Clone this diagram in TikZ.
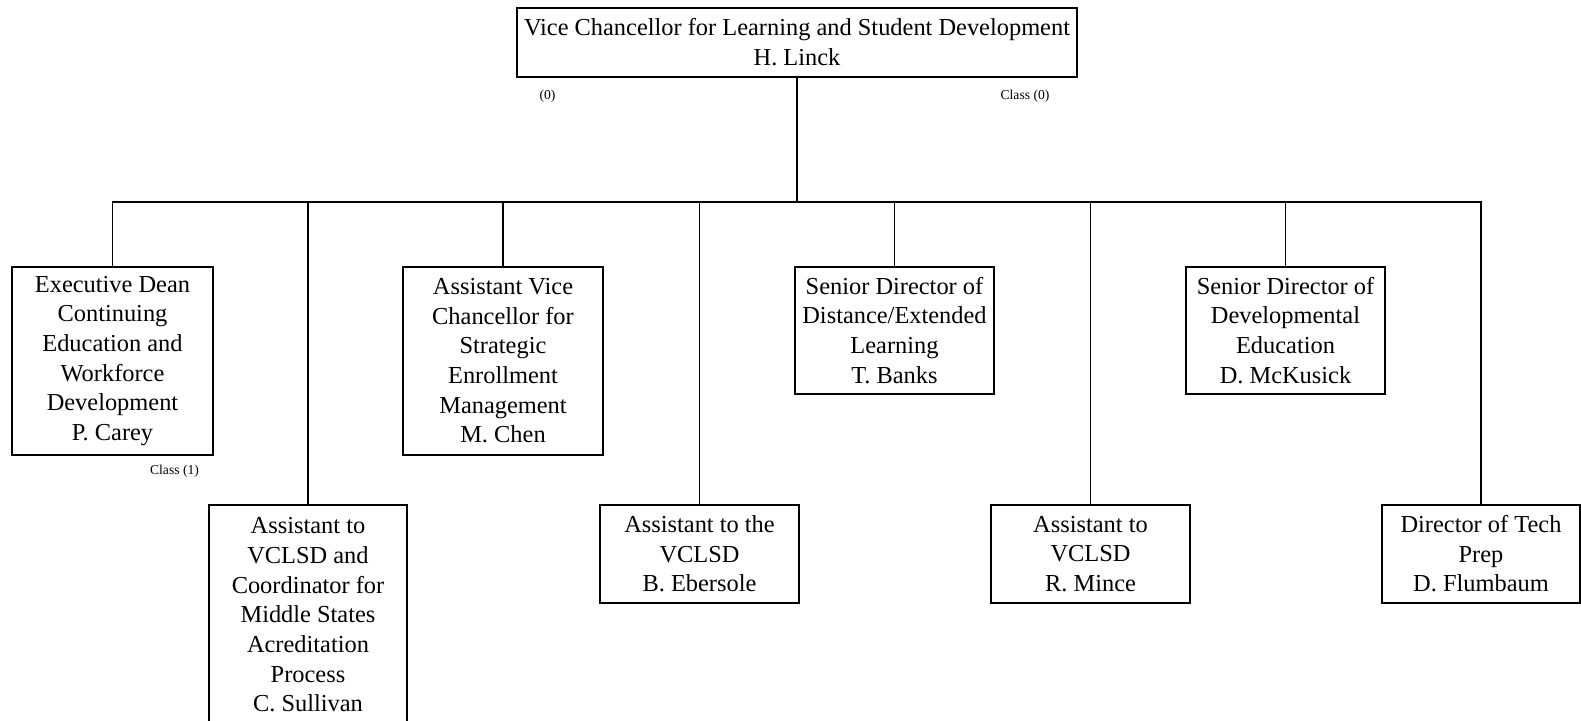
\documentclass[tikz,border=0pt]{standalone}
\usepackage{fontspec}
\setmainfont{Liberation Serif}
\usetikzlibrary{positioning}

\begin{document}
\begin{tikzpicture}[
    x=0.5pt, y=-0.5pt,
    post/.style={rectangle, draw, line width=0.8pt, align=center, anchor=north, inner sep=0pt, font=\fontsize{12.2}{14.85}\selectfont},
    note/.style={inner sep=0pt, font=\fontsize{6.8}{8}\selectfont},
    link/.style={line width=0.8pt},
]
\useasboundingbox (0,0) rectangle (1581,720);

\node[post, minimum width=280pt, minimum height=34.5pt] (vc) at (797,7) {Vice Chancellor for Learning and Student Development\\H. Linck};

% first row
\node[post, minimum width=100.5pt, minimum height=94pt] (exec) at (112.5,266) {Executive Dean\\Continuing\\Education and\\Workforce\\Development\\P. Carey};
\node[post, minimum width=100pt, minimum height=94pt] (avc) at (503,266) {Assistant Vice\\Chancellor for\\Strategic\\Enrollment\\Management\\M. Chen};
\node[post, minimum width=99.5pt, minimum height=63.5pt] (dist) at (894.5,266) {Senior Director of\\Distance/Extended\\Learning\\T. Banks};
\node[post, minimum width=99.5pt, minimum height=63.5pt] (dev) at (1285.5,266) {Senior Director of\\Developmental\\Education\\D. McKusick};

% second row
\node[post, minimum width=99pt, minimum height=110pt] (sull) at (308,504) {Assistant to\\VCLSD and\\Coordinator for\\Middle States\\Acreditation\\Process\\C. Sullivan};
\node[post, minimum width=99.5pt, minimum height=49pt] (eber) at (699.5,504) {Assistant to the\\VCLSD\\B. Ebersole};
\node[post, minimum width=99.5pt, minimum height=49pt] (mince) at (1090.5,504) {Assistant to\\VCLSD\\R. Mince};
\node[post, minimum width=99pt, minimum height=49pt] (tech) at (1481,504) {Director of Tech\\Prep\\D. Flumbaum};

% Annotations
\node[note] (n0) at (547.5,96) {(0)};
\node[note] (c0) at (1025,96) {Class (0)};
\node[note] (c1) at (174.5,471) {Class (1)};

% connectors
\coordinate (bus) at (797,202);
\draw[link] (vc.south) -- (bus);
\foreach \c in {exec,sull,avc,eber,dist,mince,dev,tech}
    \draw[link] (bus) -| (\c.north);

\end{tikzpicture}
\end{document}
